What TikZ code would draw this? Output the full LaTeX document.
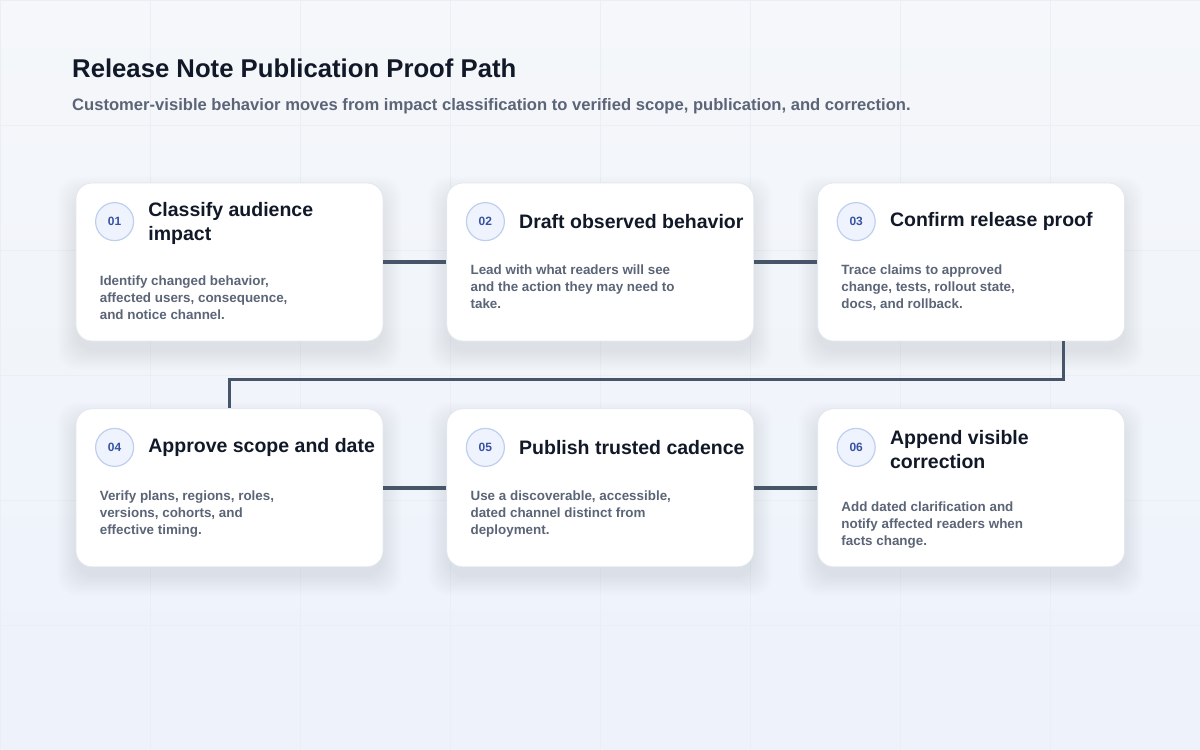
\documentclass[tikz,border=0pt]{standalone}
\usepackage{fontspec}
\setmainfont{Liberation Sans}
\usepackage{tikz}
\usetikzlibrary {arrows.meta,
                 positioning,
                 calc}
\definecolor{bgtop}{HTML}{F5F7FA}
\definecolor{bgbot}{HTML}{EDF2FB}
\definecolor{gridc}{HTML}{EAEEF5}
\definecolor{ink}{HTML}{111827}
\definecolor{muted}{HTML}{5B6577}
\definecolor{cardline}{HTML}{E2E8F0}
\definecolor{shadowc}{HTML}{5A6A85}
\definecolor{linkc}{HTML}{475569}
\definecolor{badgefill}{HTML}{EEF3FD}
\definecolor{badgeline}{HTML}{BFCFEE}
\definecolor{badgetext}{HTML}{3752A3}
\pgfdeclarelayer{bg}
\pgfdeclarelayer{shadow}
\pgfsetlayers{bg,shadow,main}
\tikzset{
        card/.style={draw=cardline, fill=white, line width=0.8pt,
                     rounded corners=16pt, minimum width=307pt,
                     minimum height=158pt},
        badge/.style={circle, draw=badgeline, fill=badgefill, line width=1.2pt,
                      minimum size=38pt, inner sep=0pt, text=badgetext,
                      font=\fontsize{12}{14}\selectfont\bfseries},
        ttl/.style={anchor=west, inner sep=0pt, align=left, text=ink,
                    font=\fontsize{19.5}{24}\selectfont\bfseries},
        desc/.style={anchor=north west, inner sep=0pt, align=left, text=muted,
                     font=\fontsize{13.4}{17}\selectfont\bfseries},
        head/.style={anchor=base west, inner sep=0pt, text=ink,
                     font=\fontsize{25.7}{30}\selectfont\bfseries},
        subhead/.style={anchor=base west, inner sep=0pt, text=muted,
                        font=\fontsize{16.6}{20}\selectfont\bfseries},
        softshadow/.style={fill=shadowc, fill opacity=0.012, rounded corners=20pt},
        link/.style={draw=linkc, line width=3.5pt},
 }

\begin{document}
\begin{tikzpicture}[x=1pt, y=-1pt]
    \useasboundingbox (0,0) rectangle (1200,750);
    \begin{pgfonlayer}{bg}
    \shade[top color=bgtop, bottom color=bgbot] (0,0) rectangle (1200,750);
    \draw[gridc, line width=0.8pt, xstep=150pt, ystep=125pt] (0,0) grid (1200,750);
    \end{pgfonlayer}

    \node[head] (title) at (72,77) {Release Note Publication Proof Path};
    \node[subhead] (sub) at (72,110) {Customer-visible behavior moves from impact classification to verified scope, publication, and correction.};

    \node[card] (c1) at (229.5,262) {};
    \node[card, right=63pt of c1] (c2) {};
    \node[card, right=63pt of c2] (c3) {};
    \node[card, below=67pt of c1] (c4) {};
    \node[card, right=63pt of c4] (c5) {};
    \node[card, right=63pt of c5] (c6) {};

    % soft shadow under each card
    \begin{pgfonlayer}{shadow}
    \foreach \c in {c1,c2,c3,c4,c5,c6}
      \foreach \r in {0,2,...,18}
        \fill[softshadow] ($(\c.north west)+(-\r,12-\r)$) rectangle ($(\c.south east)+(\r,10+\r)$);
    \end{pgfonlayer}

    \node[badge] (n1) at ($(c1.north west)+(39,39)$) {01};
    \node[badge] (n2) at ($(c2.north west)+(39,39)$) {02};
    \node[badge] (n3) at ($(c3.north west)+(39,39)$) {03};
    \node[badge] (n4) at ($(c4.north west)+(39,39)$) {04};
    \node[badge] (n5) at ($(c5.north west)+(39,39)$) {05};
    \node[badge] (n6) at ($(c6.north west)+(39,39)$) {06};

    \node[ttl, right=14pt of n1, yshift=-2pt] (t1) {Classify audience\\impact};
    \node[ttl, right=14pt of n2] (t2) {Draft observed behavior};
    \node[ttl, right=14pt of n3] (t3) {Confirm release proof};
    \node[ttl, right=14pt of n4] (t4) {Approve scope and date};
    \node[ttl, right=14pt of n5] (t5) {Publish trusted cadence};
    \node[ttl, right=14pt of n6, yshift=-2pt] (t6) {Append visible\\correction};

    \node[desc] (d1) at ($(c1.north west)+(24,93)$) {Identify changed behavior,\\affected users, consequence,\\and notice channel.};
    \node[desc] (d2) at ($(c2.north west)+(24,82)$) {Lead with what readers will see\\and the action they may need to\\take.};
    \node[desc] (d3) at ($(c3.north west)+(24,82)$) {Trace claims to approved\\change, tests, rollout state,\\docs, and rollback.};
    \node[desc] (d4) at ($(c4.north west)+(24,82)$) {Verify plans, regions, roles,\\versions, cohorts, and\\effective timing.};
    \node[desc] (d5) at ($(c5.north west)+(24,82)$) {Use a discoverable, accessible,\\dated channel distinct from\\deployment.};
    \node[desc] (d6) at ($(c6.north west)+(24,93)$) {Add dated clarification and\\notify affected readers when\\facts change.};

    \draw[link] (c1) -- (c2);
    \draw[link] (c2) -- (c3);
    \draw[link] ($(c3.south west)!0.8!(c3.south east)$) -- ++(0,38) -| (c4.north);
    \draw[link] (c4) -- (c5);
    \draw[link] (c5) -- (c6);
\end{tikzpicture}
\end{document}
